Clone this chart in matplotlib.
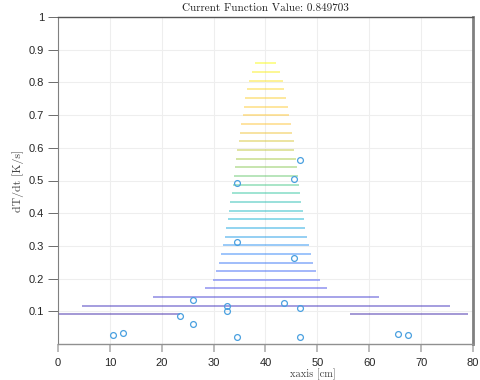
#!/usr/bin/env python3

import matplotlib
matplotlib.use("Agg")
import matplotlib.pyplot as plt
from matplotlib.colors import LinearSegmentedColormap

# contour-like horizontal segments: y level and x extent
level_y = [0.858, 0.831, 0.805, 0.779, 0.752, 0.725, 0.699, 0.674, 0.646, 0.620,
           0.594, 0.567, 0.541, 0.515, 0.487, 0.461, 0.435, 0.408, 0.382, 0.354,
           0.328, 0.302, 0.275, 0.249, 0.223, 0.196, 0.170, 0.143, 0.116, 0.091, 0.091]
seg_x0 = [38.0, 37.4, 36.9, 36.5, 36.1, 35.9, 35.6, 35.3, 35.1, 34.8,
          34.6, 34.3, 34.1, 33.9, 33.7, 33.5, 33.2, 33.0, 32.7, 32.4,
          32.1, 31.8, 31.4, 31.0, 30.5, 29.8, 28.4, 18.4, 4.7, 0.1, 56.3]
seg_x1 = [42.1, 42.8, 43.3, 43.6, 44.0, 44.3, 44.5, 44.9, 45.1, 45.4,
          45.5, 45.8, 46.0, 46.3, 46.4, 46.6, 46.9, 47.2, 47.4, 47.7,
          48.0, 48.4, 48.8, 49.1, 49.8, 50.5, 51.8, 61.8, 75.5, 23.5, 79.0]

# measured points
pts_x = [46.6, 45.5, 34.6, 34.6, 45.5, 26.1, 32.5, 32.5, 43.6, 46.6,
         23.6, 26.0, 10.6, 12.5, 34.6, 46.6, 65.5, 67.5]
pts_y = [0.562, 0.504, 0.492, 0.312, 0.262, 0.135, 0.116, 0.100, 0.126, 0.111,
         0.085, 0.060, 0.028, 0.033, 0.022, 0.022, 0.032, 0.027]

title = "Current Function Value: 0.849703"

parula = LinearSegmentedColormap.from_list("parula", [
    (0.2422, 0.1504, 0.6603), (0.2810, 0.3228, 0.9579), (0.1786, 0.5289, 0.9682),
    (0.0689, 0.6948, 0.8394), (0.2161, 0.7843, 0.5923), (0.6720, 0.7793, 0.2227),
    (0.9970, 0.7659, 0.2199), (0.9892, 0.8136, 0.1885), (0.9769, 0.9839, 0.0805)])

fig = plt.figure(figsize=(4.8, 3.8), dpi=100)
ax = fig.add_axes([0.1208, 0.0947, 0.8646, 0.8606])

ylo, yhi = min(level_y), max(level_y)
for y, a, b in zip(level_y, seg_x0, seg_x1):
    c = parula((y - ylo) / (yhi - ylo))
    ax.plot([a, b], [y, y], color=c, alpha=0.6, lw=1.1, solid_capstyle="butt")

ax.plot(pts_x, pts_y, "o", mfc="none", mec="#4aa0e0", ms=4.2, mew=0.9)

ax.set_xlim(0, 80)
ax.set_ylim(0, 1)
ax.set_xticks(range(0, 81, 10))
ax.set_yticks([0.1, 0.2, 0.3, 0.4, 0.5, 0.6, 0.7, 0.8, 0.9, 1])
ax.set_yticklabels(["0.1", "0.2", "0.3", "0.4", "0.5", "0.6", "0.7", "0.8", "0.9", "1"])
ax.grid(True, color="#eeeeee", lw=0.8)
ax.set_axisbelow(True)

for lab in ax.get_xticklabels() + ax.get_yticklabels():
    lab.set_family("Liberation Sans")
    lab.set_fontsize(8)
ax.tick_params(axis="both", direction="out", colors="#555555", labelcolor="#262626")
ax.tick_params(axis="y", length=7, width=0.6, pad=3)
ax.tick_params(axis="x", length=6, width=1.4, pad=4, colors="#bbbbbb", labelcolor="#262626")

ax.spines["top"].set_color("#555555")
ax.spines["top"].set_linewidth(1.0)
ax.spines["right"].set_color("#808080")
ax.spines["right"].set_linewidth(2.0)
ax.spines["left"].set_color("#808080")
ax.spines["left"].set_linewidth(0.8)
ax.spines["bottom"].set_color("#909090")
ax.spines["bottom"].set_linewidth(1.0)

ax.set_title(title, family="cmr10", fontsize=8, pad=4, color="#222222")
ax.set_xlabel("xaxis [cm]", family="cmr10", fontsize=7.5, color="#444444", va="bottom")
ax.set_ylabel("dT/dt [K/s]", family="cmr10", fontsize=8.5, color="#444444")
ax.xaxis.set_label_coords(0.614, -0.110)
ax.yaxis.set_label_coords(-0.083, 0.5)

fig.savefig("out.png", dpi=100)
